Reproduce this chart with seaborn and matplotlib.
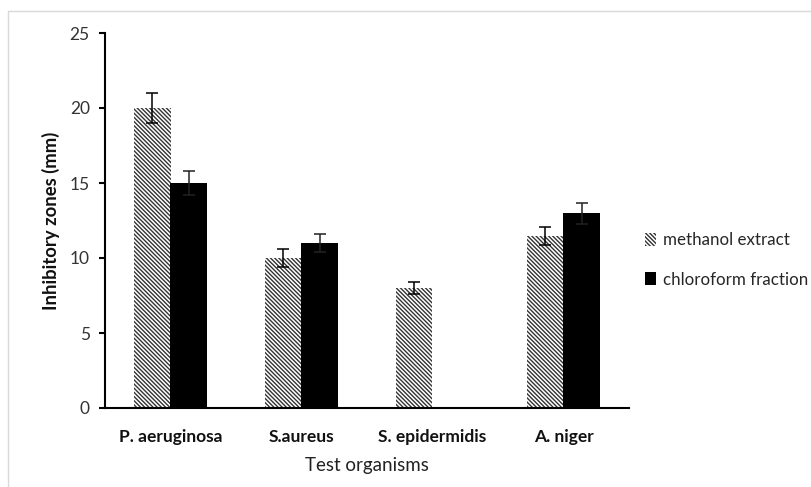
import numpy as np
import pandas as pd
import matplotlib
matplotlib.use("Agg")
import matplotlib.pyplot as plt
import seaborn as sns
from matplotlib.lines import Line2D
from matplotlib.patches import Patch

categories = ["P. aeruginosa", "S.aureus", "S. epidermidis", "A. niger"]
series_names = ["methanol extract", "chloroform fraction"]
methanol = [20.0, 10.0, 8.0, 11.5]
methanol_err = [1.0, 0.6, 0.4, 0.6]
chloroform = [15.0, 11.0, np.nan, 13.0]
chloroform_err = [0.8, 0.6, np.nan, 0.7]
y_ticks = [0, 5, 10, 15, 20, 25]

rows = []
for i, c in enumerate(categories):
    rows.append({"organism": c, "series": series_names[0], "value": methanol[i], "err": methanol_err[i]})
    rows.append({"organism": c, "series": series_names[1], "value": chloroform[i], "err": chloroform_err[i]})
df = pd.DataFrame(rows)

sns.set_theme(style="white")
plt.rcParams['font.family'] = ['Lato', 'DejaVu Sans']
plt.rcParams['hatch.linewidth'] = 1.0

HATCH = "\\" * 8

fig = plt.figure(figsize=(8.12, 4.87), dpi=100)
ax = fig.add_axes([105/812, 1-408/487, 524/812, 375/487])

sns.barplot(data=df.dropna(subset=["value"]), x="organism", y="value", hue="series",
            order=categories, hue_order=series_names,
            palette=["white", "black"], width=0.56, gap=0, errorbar=None,
            ax=ax, legend=False)

errs = {series_names[0]: methanol_err, series_names[1]: chloroform_err}
for cont, name in zip(ax.containers, series_names):
    for bar in cont:
        h = bar.get_height()
        if np.isnan(h):
            continue
        xc = bar.get_x() + bar.get_width() / 2
        idx = int(round(xc))
        e = errs[name][idx]
        if name == series_names[0]:
            bar.set_facecolor("white")
            bar.set_edgecolor("#333333")
            bar.set_hatch(HATCH)
            bar.set_linewidth(0)
        else:
            bar.set_facecolor("black")
            bar.set_edgecolor("black")
            bar.set_linewidth(0)
        ax.errorbar(xc, h, yerr=e, fmt="none", ecolor="black" if name == series_names[0] else "#222222",
                    elinewidth=1.1, capsize=4.5, capthick=1.1, zorder=5)

ax.set_xlim(-0.5, 3.5)
ax.set_ylim(0, 25)
ax.set_yticks(y_ticks)
ax.set_yticklabels([str(t) for t in y_ticks], fontsize=12.5, color="#333333")
ax.set_xticks(range(len(categories)))
ax.set_xticklabels(categories, fontsize=12.5, fontweight="bold", color="#111111")
ax.tick_params(axis="y", direction="out", length=4, width=1.5, color="black", pad=7, left=True)
ax.tick_params(axis="x", length=0, pad=15)
for s in ["top", "right"]:
    ax.spines[s].set_visible(False)
for s in ["left", "bottom"]:
    ax.spines[s].set_color("black")
    ax.spines[s].set_linewidth(1.5)
ax.set_xlabel("Test organisms", fontsize=13.5, color="#222222", labelpad=9)
ax.set_ylabel("Inhibitory zones (mm)", fontsize=13.3, fontweight="bold", color="#111111", labelpad=7)

handles = [Patch(facecolor="white", edgecolor="#333333", hatch=HATCH, linewidth=0),
           Patch(facecolor="black", edgecolor="black", linewidth=0)]
fig.legend(handles, series_names, loc="center left", bbox_to_anchor=(638/812, 1-260/487),
           frameon=False, fontsize=12.2, handlelength=0.65, handleheight=0.8, handletextpad=0.4,
           labelspacing=1.4, borderaxespad=0)

fig.add_artist(Line2D([8/812, 1], [1-10.5/487, 1-10.5/487], color="#d9d9d9", lw=1, transform=fig.transFigure))
fig.add_artist(Line2D([8.5/812, 8.5/812], [0, 1-10.5/487], color="#d9d9d9", lw=1, transform=fig.transFigure))

fig.savefig("out.png", dpi=100)
